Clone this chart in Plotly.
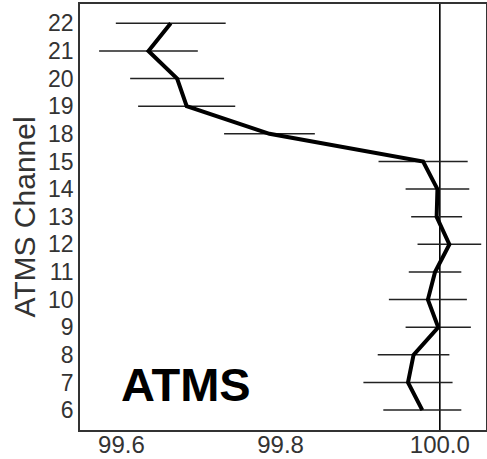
import plotly.graph_objects as go

# ATMS channels (bottom to top) and their mean values with spread
channels = ["6", "7", "8", "9", "10", "11", "12", "13", "14", "15", "18", "19", "20", "21", "22"]
values = [99.978, 99.960, 99.967, 99.998, 99.985, 99.994, 100.012, 99.996, 99.997, 99.979,
          99.786, 99.682, 99.670, 99.634, 99.662]
errors = [0.049, 0.056, 0.045, 0.041, 0.049, 0.033, 0.040, 0.032, 0.040, 0.056,
          0.057, 0.061, 0.059, 0.062, 0.069]
x_ticks = [99.6, 99.8, 100.0]
x_tick_labels = ["99.6", "99.8", "100.0"]
reference_value = 100.0

font_family = "Liberation Sans, Arial, sans-serif"

fig = go.Figure()

fig.add_trace(go.Scatter(
    x=values,
    y=channels,
    mode="lines",
    line=dict(color="black", width=4),
    error_x=dict(type="data", array=errors, visible=True, color="#222222",
                 thickness=1.5, width=0),
    showlegend=False,
))

fig.add_vline(x=reference_value, line=dict(color="black", width=1.6), layer="below")

fig.add_annotation(
    x=0.095, y=0.107, xref="paper", yref="paper",
    text="<b>ATMS</b>", showarrow=False, xanchor="left", yanchor="middle",
    font=dict(family=font_family, size=47, color="black"),
)

fig.update_layout(
    width=487, height=459,
    margin=dict(l=80, r=1, t=4, b=29),
    plot_bgcolor="white", paper_bgcolor="white",
    font=dict(family=font_family, color="#333333"),
    xaxis=dict(
        range=[99.548, 100.058],
        tickmode="array", tickvals=x_ticks, ticktext=x_tick_labels,
        tickfont=dict(size=24, color="#333333"),
        showgrid=False, zeroline=False,
        showline=True, linecolor="#333333", linewidth=1.5, mirror=True,
        ticks="", ticklen=0, automargin=False, ticklabelstandoff=-8,
    ),
    yaxis=dict(
        type="category",
        categoryorder="array", categoryarray=channels,
        tickmode="array", tickvals=channels, ticktext=channels,
        range=[-0.72, 14.7],
        tickfont=dict(size=23, color="#333333"),
        showgrid=False, zeroline=False,
        showline=True, linecolor="#333333", linewidth=1.5, mirror=True,
        ticks="", ticklen=0, automargin=False,
        title=dict(text="ATMS Channel", font=dict(size=30, color="#333333"), standoff=4),
    ),
)

fig.write_html("out.html")
